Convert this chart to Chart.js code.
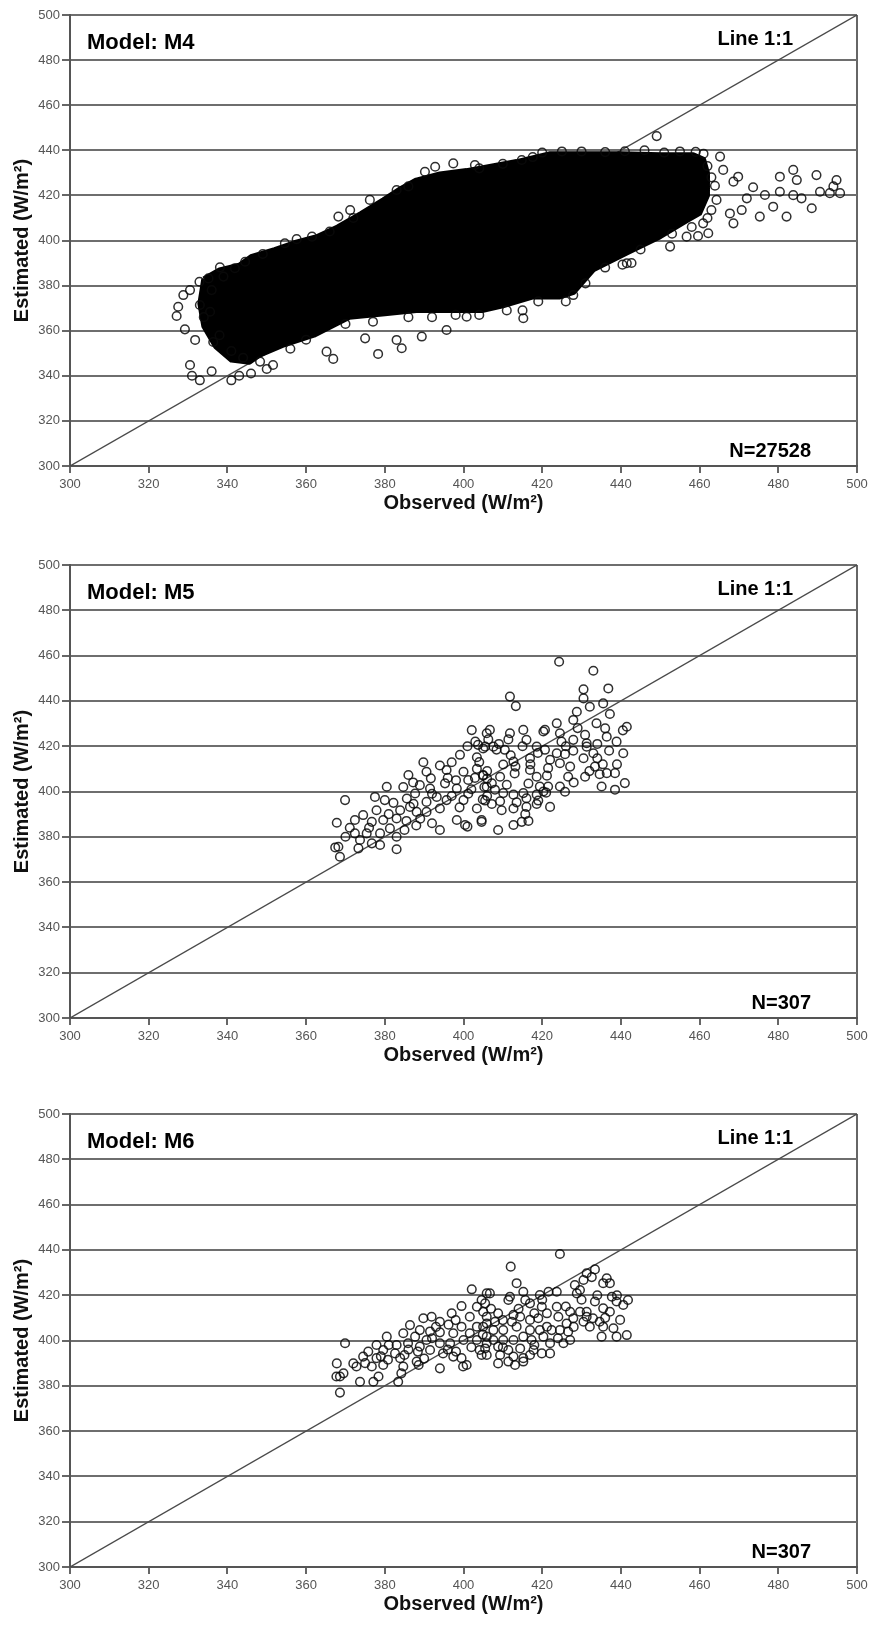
<!DOCTYPE html>
<html><head><meta charset="utf-8">
<script src="https://cdn.jsdelivr.net/npm/chart.js@4.4.0/dist/chart.umd.min.js"></script>
<style>
html,body{margin:0;padding:0;background:#fff;width:872px;height:1627px;overflow:hidden}
canvas{position:absolute;left:0}
</style></head><body>
<canvas id="c1" width="872" height="518" style="top:0px"></canvas>
<canvas id="c2" width="872" height="520" style="top:550px"></canvas>
<canvas id="c3" width="872" height="520" style="top:1099px"></canvas>
<script>
// ---------- data ----------
const axisMin = 300, axisMax = 500, axisStep = 20;
const xTitle = 'Observed (W/m²)';
const yTitle = 'Estimated (W/m²)';
const modelLabels = ['Model: M4', 'Model: M5', 'Model: M6'];
const nLabels = ['N=27528', 'N=307', 'N=307'];
const lineLabel = 'Line 1:1';
const oneToOne = [[300,300],[500,500]];

// M4: dense core outline (solid black region)
const m4Core = [[334,383],[338,387],[343,389],[346,392.8],[352,396],[357,399],[362.7,401.7],[368,406],[374,412],[379.6,418],[384,423],[388,426.8],[394,429.5],[400.8,431],[407,433],[413.5,435],[422,438.5],[430,438.5],[440,438.5],[450,438],[458.4,438],[461,436],[462,430],[462,420],[460,412],[457,409],[450,401.7],[441.5,394.4],[433,387],[428,377],[424.5,375],[417.7,375],[410,371],[405,369],[395,369],[388,369],[380,367.5],[371,366],[362,358],[354,353.5],[348,349],[345.6,346],[341,347],[337,353],[334,362],[333,372],[334,383]];
// M4: individually visible points around the core
const m4Points = [[327.5,370.6],[327.1,366.5],[329.2,360.6],[331.8,355.9],[330.5,344.8],[328.8,375.8],[330.5,378],[332.9,381.7],[333,371.4],[335.2,383.2],[338.1,388.1],[341.9,387.7],[344.5,390.6],[335.6,368.4],[336.4,355],[366.9,347.5],[365.2,350.7],[348.3,346.3],[351.6,344.8],[331,340],[333,338],[336,342],[341,338],[343,340],[346,341],[350,343],[378.3,349.7],[375,356.6],[384.3,352.2],[383,355.9],[389.4,357.4],[395.7,360.3],[400.8,366.2],[415.2,365.5],[415,369],[368.2,410.6],[371.2,413.5],[376.2,418],[383,422.4],[390.2,430.5],[392.8,432.7],[397.4,434.2],[402.9,433.5],[414.8,435.7],[417.6,437],[420,439],[354.6,398.8],[357.6,400.6],[361.5,401.7],[449.1,446.3],[465.2,437.2],[466,431.3],[469.8,428.3],[468.6,426.1],[473.6,423.6],[476.6,420.2],[480.4,428.3],[483.8,431.3],[484.7,426.8],[489.7,429],[480.4,421.6],[483.8,420.1],[485.9,418.7],[488.5,414.3],[482.1,410.6],[490.6,421.6],[493.1,421],[495.7,421],[494.8,426.8],[494,424],[475.3,410.6],[478.7,415],[472,418.7],[470.7,413.5],[468.6,407.6],[467.7,412],[464.3,418],[463.9,424.3],[463,413.5],[460.9,407.6],[462.2,403.2],[459.6,402],[456.7,401.7],[452.5,397.3],[441.5,389.9],[442.7,390],[440.4,389.3],[427.9,375.8],[425,439.5],[430,439.5],[436,439.2],[441,439.6],[446,440],[451,439],[455,439.5],[459,439.3],[461,438.5],
[339,384],[336,378],[334,366],[338,358],[341,351],[344,348],[356,352],[360,356],[370,363],[377,364],[386,366],[392,366],[398,367],[404,367],[411,369],[419,373],[426,373],[431,381],[436,388],[445,396],[453,403],[458,406],[462,410],[463,428],[462,433],[349,394],[366,404],[372,410],[386,424],[404,432],[410,434]];

const m5Points = [[402.1,427.1],[405.9,425.7],[403.7,420.6],[403,422],[405,419],[401,420],[399.1,416.2],[403.4,415.1],[389.8,412.9],[394,411.5],[397,412.9],[386,407.3],[390.6,408.7],[391.7,405.8],[395.7,409.5],[395.3,403.6],[400,408.7],[401.2,405.1],[403.4,410],[405,407.3],[405.9,402.1],[388.9,402.8],[387.7,399.1],[391.5,401.3],[393.2,397.6],[398.3,401.3],[400,396.2],[401.2,399],[395.7,396.2],[390.6,395.4],[385.6,396.9],[386.4,393.2],[383.9,391.7],[380.5,402.1],[380,396.2],[382.2,395],[377.5,397.6],[369.9,396.2],[367.8,386.2],[372.4,387.4],[374.5,389.6],[377.9,391.7],[376.7,386.6],[379.6,387.4],[383,388.1],[381.3,383.7],[378.8,381.5],[383,380],[375.4,381.5],[372.4,381.5],[373.7,378.6],[376.7,377.1],[378.8,376.4],[383,374.5],[373.3,374.9],[368.2,375.6],[368.6,371.2],[367.4,375.3],[387.3,394.6],[388.1,391],[390.6,391],[394,392.5],[394,383],[398.3,387.4],[400.4,385.2],[401,384.5],[404.6,387.4],[404.9,396.5],[403.4,392.5],[402.9,406],[398.1,405],[387.2,404],[384.7,402],[371.1,384],[385.5,387],[388,385],
[424.3,457.3],[433,453.3],[411.8,441.9],[413.3,437.7],[430.5,445.1],[436.8,445.5],[430.5,441.1],[432.1,437.4],[435.5,438.9],[437.2,434.2],[428.8,435.2],[427.9,431.6],[423.7,430.1],[420.7,427.2],[420.3,426.5],[424.5,425.7],[424.9,422],[427.9,422.8],[430.9,425],[433.8,430.1],[436,427.9],[436.4,424.2],[438.9,422],[441.5,428.6],[440.5,427],[440.6,416.9],[431.3,419.8],[433,416.9],[430.5,414.7],[434,414.7],[433.4,411],[435.4,412],[436.4,408.1],[438.5,408.1],[434.6,407.6],[435.1,402.2],[438.5,400.8],[441,403.7],[430.9,406.5],[427.1,411],[426.6,406.5],[425.8,399.9],[424.5,402.2],[424.5,412.5],[423.7,416.9],[425.8,416.5],[427.9,418],[421.5,410.3],[420.7,418.4],[418.6,419.8],[418.9,417],[416.9,414.7],[415.2,427.2],[416,422.8],[415,420],[411.8,425.7],[411.4,423],[410.5,418.4],[406.7,427.2],[406.3,423],[405.5,419.8],[407.6,419.8],[408.4,418.5],[412.7,413.2],[413.2,411],[410.1,411.9],[416.9,409.5],[418.6,406.5],[421.2,407],[419.4,402.2],[416.5,403.5],[413,408],[409.3,406.5],[407.2,403.6],[406,405.7],[405,407],[405.3,402],[408,400.8],[410.1,399.3],[412.7,398.6],[415.2,399.3],[418.6,398.6],[420.3,400],[421.5,402.2],[416,397],[413.5,395.2],[409.3,395.7],[407.2,394.5],[405.5,396],[409.7,391.7],[412.7,392.5],[416,393.2],[418.6,394.5],[422,393.2],[404.6,386.6],[408.8,383],[412.7,385.2],[414.8,386.6],[416.5,387],[415.7,390],[421,399.5],[431.3,421.3],
[392,399],[396,406],[399,393],[389,388],[381,390],[376,384],[370,380],[385,383],[392,386],[397,398],[402,401],[406,409],[404,413],[409,421],[412,416],[417,412],[422,414],[426,420],[429,428],[434,421],[437,418],[439,412],[432,409],[428,404],[419,396],[411,403],[406,398]];

const m6Points = [[402.1,422.6],[405.9,420.8],[404.6,417.9],[403.4,414.9],[399.5,415.2],[397,412],[405,412.7],[401.6,410.5],[389.8,409.8],[391.9,410.5],[394,408.3],[396.2,407],[386.4,406.8],[399.5,406.1],[403.4,406.1],[405.9,407.5],[388.9,404.6],[391.5,404],[394,403.6],[397.4,403.2],[401.6,403.2],[404.9,402.6],[380.5,401.7],[384.7,403.2],[387.7,401.7],[390.6,400.2],[394,398.8],[396.6,398.8],[369.9,398.8],[377.9,398],[383,398],[385.9,398.8],[388.9,397.3],[400,400.2],[403.4,400.2],[405.9,398.8],[375.8,395.1],[379.6,395.8],[382.6,394.3],[385,393.6],[388.4,395.1],[391.5,395.8],[394.8,394.3],[398.1,395.1],[404.1,395.8],[374.5,392.9],[377.9,392.2],[380.8,391.5],[383.9,392.2],[388.1,390.7],[397.4,392.9],[399.5,392.2],[400.8,389.2],[404.6,393.6],[405.9,393.6],[367.8,389.9],[372,389.9],[372.8,388.5],[376.7,388.5],[379.6,389.2],[384.7,388.5],[394,387.7],[388.6,389.2],[399.9,388.5],[368.6,384.1],[369.5,385.5],[373.7,381.8],[377.1,381.8],[378.4,384.1],[383.4,381.8],[384.2,385.5],[368.6,377],[367.7,384.1],
[424.5,438.2],[412,432.6],[413.5,425.3],[431.3,429.7],[433.4,431.4],[430.5,426.7],[432.6,428],[436.4,427.5],[437.2,425.3],[435.5,425.3],[428.3,424.5],[429.6,422.3],[428.8,420.8],[437.7,419.3],[441.8,417.9],[440.6,415.7],[438.9,417.2],[433.4,417.2],[435.5,414.2],[437.2,412.7],[439.8,409.1],[441.5,402.4],[438.9,401.7],[435.1,401.7],[438.1,405.4],[435.5,406.1],[434.6,408.3],[432.9,409.8],[431.3,410.5],[430.5,408.3],[432.1,406.1],[431.3,412.7],[429.6,412.7],[423.7,421.5],[421.6,421.5],[419.4,420.1],[415.2,421.5],[411.8,419.3],[411.4,417.9],[406.7,420.8],[405.5,416.4],[415.7,417.9],[416.9,416.4],[419.9,414.9],[423.7,414.9],[424.1,410.5],[427.1,412.7],[427.9,409.8],[426.2,407.5],[424.5,404.6],[426.6,403.9],[427.1,400.2],[425.4,398.8],[422.4,404.6],[421.2,406.1],[421.2,412],[419,409.8],[416.9,409.1],[414.4,410.5],[412.7,411.3],[412.3,408.3],[408.8,412],[408,408.3],[405.9,410.5],[405,406.1],[407.6,404.6],[410.1,404.6],[413.5,406.1],[416.9,404.6],[419.4,404.6],[420.3,401.7],[422,398.8],[417.3,400.2],[415.2,401.7],[412.7,400.2],[410.1,400.2],[407.6,400.2],[405.9,401.7],[405.5,396.5],[408.8,397.3],[411.4,395.8],[414.4,396.5],[417.8,395.8],[419.9,394.3],[422,394.3],[409.3,393.6],[412.7,392.9],[415.2,392.2],[416.9,393.6],[408.8,389.9],[413.1,389.2],[415.2,390.7],[411.4,390.7],
[392,401],[396,396],[386,396],[381,398],[379,393],[375,390],[390,392],[393,406],[398,409],[402,397],[407,414],[410,409],[418,412],[420,418],[426,415],[430,418],[434,420],[439,420],[436,410],[428,406],[424,401],[418,398],[410,397],[414,414]];

// ---------- chart ----------
const FONT = '"Liberation Sans", Arial, Helvetica, sans-serif';
const toXY = a => a.map(p => ({x: p[0], y: p[1]}));

const labelPlugin = {
  id: 'panelLabels',
  afterDraw(chart, args, opts) {
    const {ctx, chartArea: a} = chart;
    ctx.save();
    ctx.fillStyle = '#000';
    ctx.textBaseline = 'alphabetic';
    ctx.font = 'bold 22px ' + FONT;
    ctx.textAlign = 'left';
    ctx.fillText(opts.model, a.left + 17, a.top + 34);
    ctx.font = 'bold 20px ' + FONT;
    ctx.textAlign = 'right';
    ctx.fillText(opts.line, a.right - 64, a.top + 30);
    ctx.fillText(opts.n, a.right - 46, a.bottom - 9);
    ctx.restore();
  }
};

function makeChart(id, points, core, idx) {
  const datasets = [{
    type: 'scatter', data: toXY(points),
    pointStyle: 'circle', pointRadius: 4.3, pointBorderWidth: 1.5,
    pointBorderColor: 'rgba(10,10,10,0.85)', pointBackgroundColor: 'rgba(0,0,0,0)'
  }];
  if (core) {
    datasets.push({
      type: 'line', data: toXY(core), showLine: true, fill: 'shape',
      backgroundColor: '#000', borderColor: '#000', borderWidth: 5,
      borderJoinStyle: 'round', pointRadius: 0, tension: 0
    });
  }
  datasets.push({
    type: 'line', data: toXY(oneToOne), showLine: true, fill: false,
    borderColor: '#4a4a4a', borderWidth: 1.4, pointRadius: 0
  });
  new Chart(document.getElementById(id), {
    type: 'scatter',
    data: {datasets},
    options: {
      responsive: false, animation: false, events: [],
      layout: {padding: {top: 15, right: 15, left: 0, bottom: 0}},
      plugins: {legend: {display: false}, tooltip: {enabled: false},
        panelLabels: {model: modelLabels[idx], n: nLabels[idx], line: lineLabel}},
      scales: {
        x: {
          type: 'linear', min: axisMin, max: axisMax,
          ticks: {stepSize: axisStep, color: '#555', padding: 4, maxRotation: 0,
                  font: {family: FONT, size: 13}},
          grid: {drawOnChartArea: true, lineWidth: 2, tickLength: 7,
                 color: c => (c.tick && c.tick.value === axisMax) ? '#666' : 'rgba(0,0,0,0)',
                 tickColor: '#666'},
          border: {color: '#555', width: 2},
          title: {display: true, text: xTitle, color: '#111',
                  font: {family: FONT, size: 20, weight: 'bold'}, padding: {top: 0, bottom: 3}},
          afterFit: s => { s.height = 52; }
        },
        y: {
          type: 'linear', min: axisMin, max: axisMax,
          ticks: {stepSize: axisStep, color: '#555', padding: 2,
                  font: {family: FONT, size: 13}},
          grid: {lineWidth: 2, tickLength: 8, color: '#6e6e6e', tickColor: '#666'},
          border: {color: '#555', width: 2},
          title: {display: true, text: yTitle, color: '#111',
                  font: {family: FONT, size: 20, weight: 'bold'}, padding: {top: 10, bottom: 0}},
          afterFit: s => { s.width = 70; }
        }
      }
    },
    plugins: [labelPlugin]
  });
}

makeChart('c1', m4Points, m4Core, 0);
makeChart('c2', m5Points, null, 1);
makeChart('c3', m6Points, null, 2);
</script>
</body></html>
